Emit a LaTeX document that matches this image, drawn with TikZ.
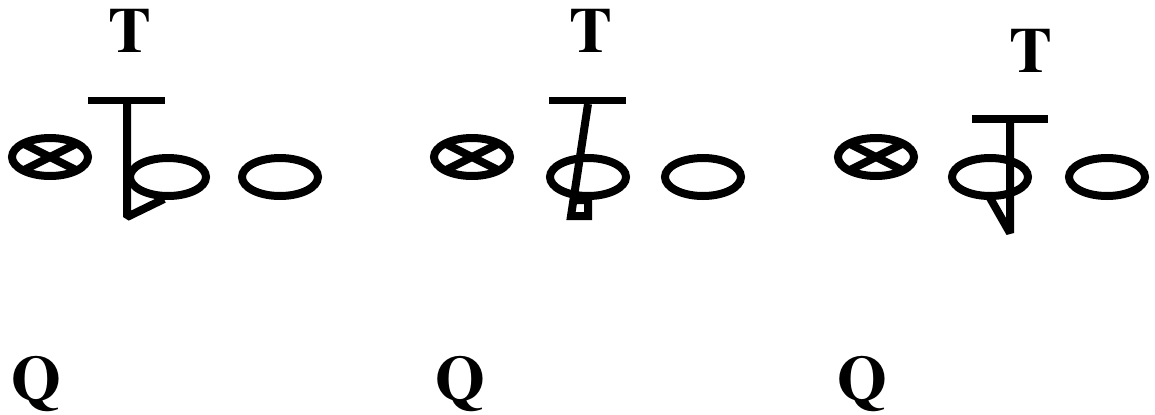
\documentclass[tikz,border=0pt]{standalone}
\usepackage[T1,TU]{fontenc}
\begin{document}
\begin{tikzpicture}[x=0.75pt,y=-0.75pt,
  lbl/.style={font=\fontsize{48}{52}\fontencoding{T1}\fontfamily{ptm}\bfseries\selectfont, inner sep=0pt, anchor=base},
  thick line/.style={line width=6pt},
  bar/.style={line width=5.4pt}]
\useasboundingbox (0,0) rectangle (1155,414);
% labels
\node[lbl] (t1) at (130,52) {T};
\node[lbl] (t2) at (591,52) {T};
\node[lbl] (t3) at (1031,72) {T};
\node[lbl] (q1) at (36,400) {Q};
\node[lbl] (q2) at (460,400) {Q};
\node[lbl] (q3) at (862,400) {Q};
% crossed ellipses
\foreach \cx/\cy in {50/157, 472/157, 876/157}{
  \draw[thick line] (\cx,\cy) ellipse [x radius=38, y radius=19];
  \begin{scope}
    \clip (\cx,\cy) ellipse [x radius=38, y radius=19];
    \draw[thick line] (\cx-36,\cy-18) -- (\cx+36,\cy+18);
    \draw[thick line] (\cx-36,\cy+18) -- (\cx+36,\cy-18);
  \end{scope}
}
% plain ellipses
\foreach \cx in {168, 280, 588, 703, 990, 1107}{
  \draw[thick line] (\cx,177) ellipse [x radius=38, y radius=19];
}
% group 1
\draw[bar] (88,100.5) -- (165,100.5);
\draw[thick line,line join=bevel] (127,104) -- (127,217) -- (164,199);
% group 2
\draw[bar] (549,100.5) -- (626,100.5);
\draw[thick line,line join=miter] (588,104) -- (571,216) -- (588,216) -- (588,200) -- (574,200);
% group 3
\draw[bar] (972,119) -- (1048,119);
\draw[thick line,line join=bevel] (1010,123) -- (1010,233) -- (990,198);
\end{tikzpicture}
\end{document}
